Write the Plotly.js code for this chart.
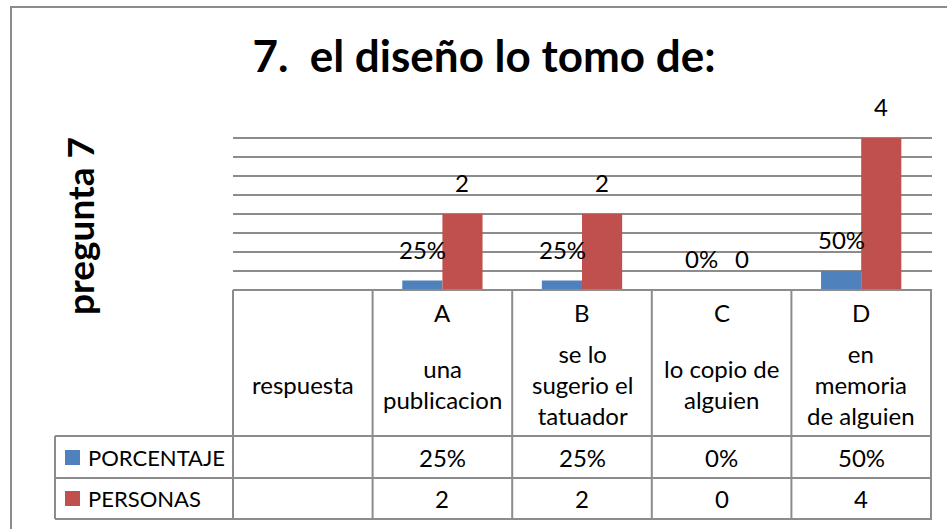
<!DOCTYPE html>
<html>
<head>
<meta charset="utf-8">
<script src="https://cdn.plot.ly/plotly-3.0.1.min.js"></script>
<style>
  html, body { margin: 0; padding: 0; background: #fff; }
  #graph { width: 947px; height: 529px; }
</style>
</head>
<body>
<div id="graph"></div>
<script>
// datos de la pregunta 7
const letras = ['', 'A', 'B', 'C', 'D'];
const respuestas = ['respuesta', 'una<br>publicacion', 'se lo<br>sugerio el<br>tatuador', 'lo copio de<br>alguien', 'en<br>memoria<br>de alguien'];
const porcentaje = [null, 0.25, 0.25, 0, 0.5];
const personas = [null, 2, 2, 0, 4];
const porcentajeTxt = ['', '25%', '25%', '0%', '50%'];
const series = ['PORCENTAJE', 'PERSONAS'];
const colores = ['#4F81BD', '#C0504D'];

const W = 947, H = 529;
const L = 233, R = 15, T = 119, B = 239;
const pw = W - L - R, ph = H - T - B;
// pixel -> paper
const px = v => (v - L) / pw;
const py = v => (H - B - v) / ph;

const font = 'Lato, "Open Sans", sans-serif';
const gris = '#8c8c8c';

const trace1 = {
    x: respuestas,
    y: porcentaje,
    type: 'bar',
    name: series[0],
    marker: { color: colores[0] },
    hoverinfo: 'none'
};
const trace2 = {
    x: respuestas,
    y: personas,
    type: 'bar',
    name: series[1],
    marker: { color: colores[1] },
    hoverinfo: 'none'
};

const annotations = [];
const shapes = [];

// etiquetas de datos sobre las barras
respuestas.forEach(function (cat, i) {
    if (porcentaje[i] === null) return;
    annotations.push({
        x: cat, y: porcentaje[i], xref: 'x', yref: 'y',
        text: porcentajeTxt[i], showarrow: false,
        xshift: -20, yshift: 15, xanchor: 'center', yanchor: 'bottom',
        font: { family: font, size: 24, color: '#000' }
    });
    annotations.push({
        x: cat, y: personas[i], xref: 'x', yref: 'y',
        text: String(personas[i]), showarrow: false,
        xshift: 20, yshift: 15, xanchor: 'center', yanchor: 'bottom',
        font: { family: font, size: 24, color: '#000' }
    });
});

// tabla de datos
respuestas.forEach(function (cat, i) {
    const celdas = [
        [letras[i], 312],
        [cat, 384],
        [porcentajeTxt[i], 457],
        [personas[i] === null ? '' : String(personas[i]), 498]
    ];
    celdas.forEach(function (c) {
        annotations.push({
            x: cat, y: py(c[1]), xref: 'x', yref: 'paper',
            text: c[0], showarrow: false, xanchor: 'center', yanchor: 'middle',
            font: { family: font, size: 24, color: '#000' }
        });
    });
    // linea vertical a la derecha de cada columna
    shapes.push({
        type: 'line', xref: 'x', yref: 'paper',
        x0: i + 0.5, x1: i + 0.5, y0: py(290), y1: py(519),
        line: { color: gris, width: 2 }
    });
});

// leyenda dentro de la tabla
series.forEach(function (s, k) {
    const yc = k === 0 ? 457 : 498;
    annotations.push({
        x: px(86), y: py(yc), xref: 'paper', yref: 'paper',
        text: s, showarrow: false, xanchor: 'left', yanchor: 'middle',
        font: { family: font, size: 22, color: '#000' }
    });
    shapes.push({
        type: 'rect', xref: 'paper', yref: 'paper',
        x0: px(65), x1: px(80), y0: py(yc - 7), y1: py(yc + 8),
        fillcolor: colores[k], line: { width: 0 }
    });
});

// bordes de la tabla
shapes.push({ type: 'line', xref: 'paper', yref: 'paper', x0: 0, x1: 1, y0: 0, y1: 0, line: { color: gris, width: 2 } });
shapes.push({ type: 'line', xref: 'paper', yref: 'paper', x0: 0, x1: 0, y0: 0, y1: py(519), line: { color: gris, width: 2 } });
[436, 478, 519].forEach(function (yy) {
    shapes.push({ type: 'line', xref: 'paper', yref: 'paper', x0: px(55), x1: 1, y0: py(yy), y1: py(yy), line: { color: gris, width: 2 } });
});
shapes.push({ type: 'line', xref: 'paper', yref: 'paper', x0: px(55), x1: px(55), y0: py(436), y1: py(519), line: { color: gris, width: 2 } });

// borde del grafico
shapes.push({
    type: 'rect', xref: 'paper', yref: 'paper',
    x0: px(11), x1: px(970), y0: py(7), y1: py(560),
    line: { color: gris, width: 2 }
});

// titulo del eje y
annotations.push({
    x: px(79), y: py(226), xref: 'paper', yref: 'paper',
    text: '<b>pregunta 7</b>', showarrow: false, textangle: -90,
    xanchor: 'center', yanchor: 'middle',
    font: { family: font, size: 37, color: '#000' }
});

const layout = {
    width: W,
    height: H,
    margin: { l: L, r: R, t: T, b: B, pad: 0 },
    paper_bgcolor: '#fff',
    plot_bgcolor: '#fff',
    showlegend: false,
    barmode: 'group',
    bargap: 0.425,
    bargroupgap: 0,
    title: {
        text: '<b>7.  el diseño lo tomo de:</b>',
        x: 484 / W, xanchor: 'center',
        y: 1 - 57 / H, yanchor: 'middle',
        font: { family: font, size: 44, color: '#000' }
    },
    xaxis: {
        showticklabels: false,
        showgrid: false,
        zeroline: false,
        showline: false,
        ticks: ''
    },
    yaxis: {
        range: [0, 4.5],
        dtick: 0.5,
        showticklabels: false,
        showgrid: true,
        gridcolor: gris,
        gridwidth: 2,
        zeroline: false,
        showline: false,
        ticks: ''
    },
    annotations: annotations,
    shapes: shapes
};

Plotly.newPlot('graph', [trace1, trace2], layout, { displayModeBar: false, staticPlot: true });
</script>
</body>
</html>
